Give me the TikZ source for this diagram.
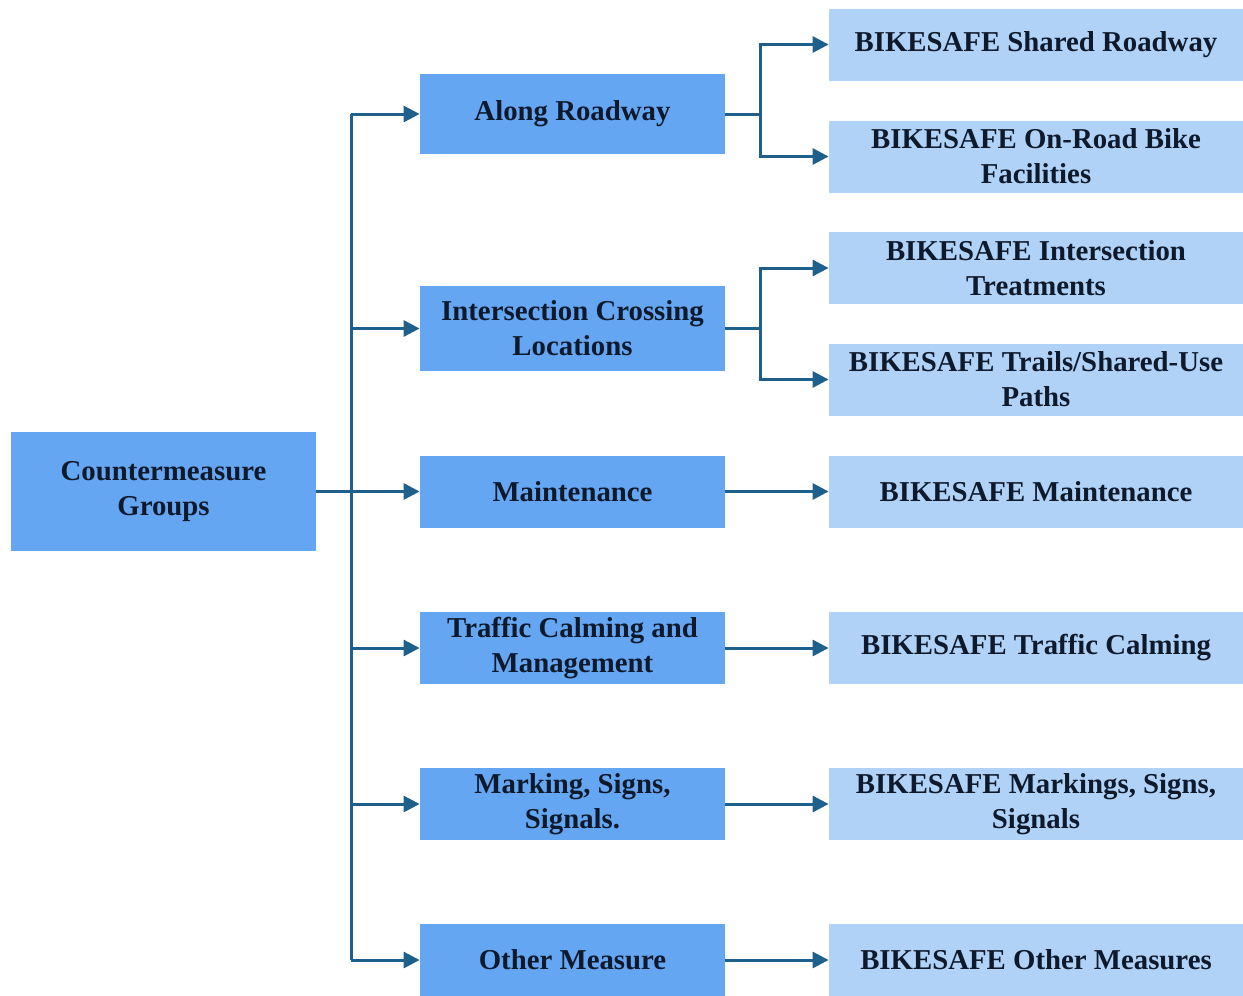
\documentclass[tikz,border=0pt]{standalone}
\usepackage{fontspec}
\setmainfont{Liberation Serif}
\usepackage{xcolor}
\usetikzlibrary{arrows.meta}
\definecolor{midblue}{HTML}{64A6F2}
\definecolor{lightblue}{HTML}{B0D2F6}
\definecolor{linkblue}{HTML}{1F5F8B}
\definecolor{inkblue}{HTML}{0E1A2C}
\tikzset{
  group/.style={fill=midblue, inner sep=0pt, minimum width=152.5pt, minimum height=36pt,
    align=center, text=inkblue, font=\fontsize{14.4}{17.5}\selectfont\bfseries},
  safe/.style={group, fill=lightblue, minimum width=207pt},
  link/.style={draw=linkblue, line width=1.5pt},
}
\begin{document}
\begin{tikzpicture}[x=0.5pt, y=-0.5pt, >={Triangle[length=8pt, width=8pt]}]
\useasboundingbox (0,0) rectangle (1243,996);
% left column
\node[group, minimum height=59.5pt] (root) at (163.5,491.5) {Countermeasure\\Groups};
% middle column
\node[group, minimum height=40pt] (along) at (572.5,114) {Along Roadway};
\node[group, minimum height=42.5pt] (inter) at (572.5,328.5) {Intersection Crossing\\Locations};
\node[group] (maint) at (572.5,491.5) {Maintenance};
\node[group] (calm) at (572.5,648) {Traffic Calming and\\Management};
\node[group] (mark) at (572.5,804) {Marking, Signs,\\Signals.};
\node[group] (other) at (572.5,960) {Other Measure};
% right column
\node[safe] (shared) at (1036,44.5) {BIKESAFE Shared Roadway};
\node[safe] (onroad) at (1036,156.5) {BIKESAFE On-Road Bike\\Facilities};
\node[safe] (treat) at (1036,268) {BIKESAFE Intersection\\Treatments};
\node[safe] (trails) at (1036,379.5) {BIKESAFE Trails/Shared-Use\\Paths};
\node[safe] (bmaint) at (1036,491.5) {BIKESAFE Maintenance};
\node[safe] (bcalm) at (1036,648) {BIKESAFE Traffic Calming};
\node[safe] (bmark) at (1036,804) {BIKESAFE Markings, Signs,\\Signals};
\node[safe] (bother) at (1036,960) {BIKESAFE Other Measures};
% junctions
\coordinate (trunk) at (351,491.5);
\coordinate (forkA) at (760,114);
\coordinate (forkB) at (760,328.5);
% trunk
\draw[link] (root) -- (trunk);
\draw[link] (trunk |- along) -- (trunk |- other);
\foreach \g in {along,inter,maint,calm,mark,other}
  \draw[link,->] (trunk |- \g) -- (\g.west);
% forks
\draw[link] (along.east) -- (forkA);
\draw[link,->] (forkA) |- (shared.west);
\draw[link,->] (forkA) |- (onroad.west);
\draw[link] (inter.east) -- (forkB);
\draw[link,->] (forkB) |- (treat.west);
\draw[link,->] (forkB) |- (trails.west);
% single links
\draw[link,->] (maint) -- (bmaint);
\draw[link,->] (calm) -- (bcalm);
\draw[link,->] (mark) -- (bmark);
\draw[link,->] (other) -- (bother);
\end{tikzpicture}
\end{document}
